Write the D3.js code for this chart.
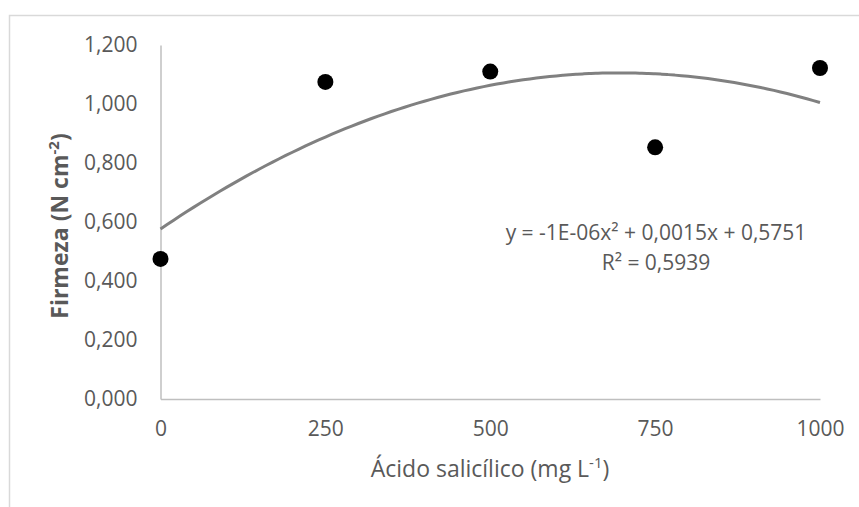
<!DOCTYPE html>
<html><head><meta charset="utf-8">
<script src="https://cdn.jsdelivr.net/npm/d3@7"></script>
<style>html,body{margin:0;padding:0;background:#fff;}</style>
</head><body>
<svg id="chart" width="859" height="507"></svg>
<script>
const doses = [0, 250, 500, 750, 1000];
const firmeza = [0.475, 1.075, 1.110, 0.853, 1.122];
const xTicks = [0, 250, 500, 750, 1000];
const yTicks = [0, 0.2, 0.4, 0.6, 0.8, 1.0, 1.2];
const eqText = ["y = -1E-06x² + 0,0015x + 0,5751", "R² = 0,5939"];

const svg = d3.select("#chart");
const font = "'Open Sans', sans-serif";
const txt = "#595959";

svg.append("rect").attr("x", 9.5).attr("y", 15.5).attr("width", 900).attr("height", 600)
  .attr("fill", "#fff").attr("stroke", "#d9d9d9").attr("stroke-width", 1.5);

const x = d3.scaleLinear().domain([0, 1000]).range([160.5, 820]);
const y = d3.scaleLinear().domain([0, 1.2]).range([399, 45]);

// axes
const yAxis = d3.axisLeft(y).tickValues(yTicks).tickSize(0).tickPadding(23)
  .tickFormat(d => d3.format(".3f")(d).replace(".", ","));
const gy = svg.append("g").attr("transform", "translate(160.5,0)").call(yAxis);
gy.select(".domain").attr("stroke", "#bfbfbf").attr("stroke-width", 1.5);
gy.selectAll("text").attr("font-family", font).attr("font-size", 21).attr("fill", txt);

const xAxis = d3.axisBottom(x).tickValues(xTicks).tickSize(0).tickPadding(22)
  .tickFormat(d3.format("d"));
const gx = svg.append("g").attr("transform", "translate(0,399)").call(xAxis);
gx.select(".domain").attr("stroke", "#bfbfbf").attr("stroke-width", 1.5);
gx.selectAll("text").attr("font-family", font).attr("font-size", 21).attr("fill", txt);

// quadratic least-squares trendline (as computed by the spreadsheet trendline)
function polyfit2(xs, ys) {
  let S = [0,0,0,0,0], T = [0,0,0];
  xs.forEach((xv, i) => {
    for (let k = 0; k < 5; k++) S[k] += Math.pow(xv, k);
    for (let k = 0; k < 3; k++) T[k] += ys[i] * Math.pow(xv, k);
  });
  const A = [[S[0],S[1],S[2],T[0]],[S[1],S[2],S[3],T[1]],[S[2],S[3],S[4],T[2]]];
  for (let i = 0; i < 3; i++) {
    for (let j = i + 1; j < 3; j++) {
      const f = A[j][i] / A[i][i];
      for (let k = i; k < 4; k++) A[j][k] -= f * A[i][k];
    }
  }
  const c = [0,0,0];
  for (let i = 2; i >= 0; i--) {
    let s = A[i][3];
    for (let k = i + 1; k < 3; k++) s -= A[i][k] * c[k];
    c[i] = s / A[i][i];
  }
  return c;
}
const coef = polyfit2(doses, firmeza);
const trend = d3.range(0, 1001, 10).map(v => [v, coef[0] + coef[1]*v + coef[2]*v*v]);
svg.append("path").datum(trend)
  .attr("d", d3.line().x(d => x(d[0])).y(d => y(d[1])).curve(d3.curveMonotoneX))
  .attr("fill", "none").attr("stroke", "#808080").attr("stroke-width", 3);

// points
svg.append("g").selectAll("circle").data(doses).join("circle")
  .attr("cx", (d) => x(d)).attr("cy", (d, i) => y(firmeza[i])).attr("r", 8)
  .attr("fill", "#000");

// equation
svg.append("g").selectAll("text").data(eqText).join("text")
  .attr("x", 656).attr("y", (d, i) => 240 + i * 30)
  .attr("text-anchor", "middle").attr("font-family", font).attr("font-size", 21)
  .attr("fill", txt).text(d => d);

// axis titles
const xt = svg.append("text").attr("x", 490).attr("y", 477).attr("text-anchor", "middle")
  .attr("font-family", font).attr("font-size", 23).attr("fill", txt);
xt.append("tspan").text("Ácido salicílico (mg L");
xt.append("tspan").attr("dy", -9).attr("font-size", 15).text("-1");
xt.append("tspan").attr("dy", 9).text(")");

const yt = svg.append("text").attr("transform", "translate(68,226) rotate(-90)")
  .attr("text-anchor", "middle").attr("font-family", font).attr("font-size", 23)
  .attr("font-weight", "bold").attr("fill", txt);
yt.append("tspan").text("Firmeza (N cm");
yt.append("tspan").attr("dy", -9).attr("font-size", 15).text("-2");
yt.append("tspan").attr("dy", 9).text(")");
</script>
</body></html>
